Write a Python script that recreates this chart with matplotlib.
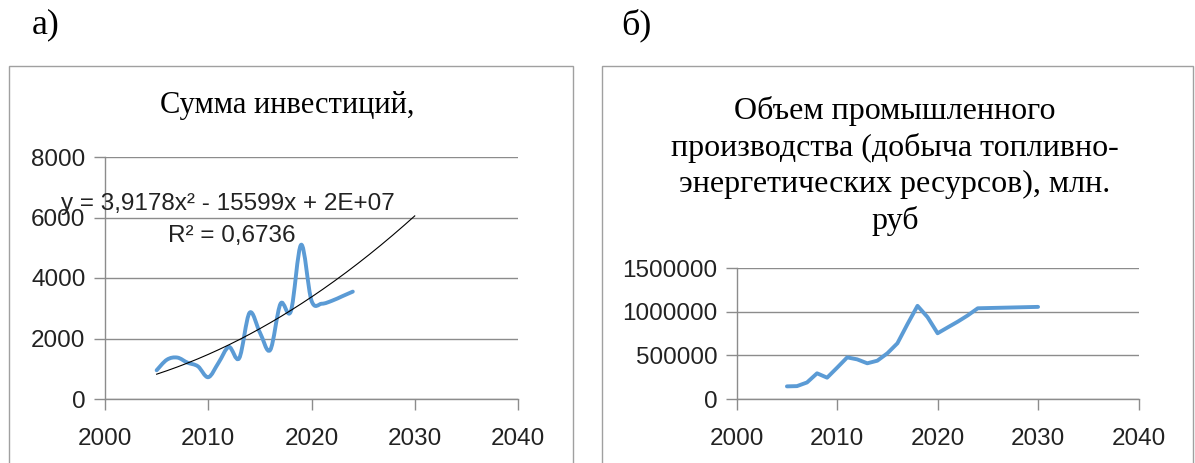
import numpy as np
import matplotlib
matplotlib.use("Agg")
import matplotlib.pyplot as plt
from matplotlib.path import Path
from matplotlib.patches import PathPatch, Rectangle

# ---- data ----
inv_years = [2005, 2006, 2007, 2008, 2009, 2010, 2011, 2012, 2013, 2014,
             2015, 2016, 2017, 2018, 2019, 2020, 2021, 2022, 2023, 2024]
inv_values = [950, 1300, 1370, 1200, 1080, 720, 1200, 1720, 1350, 2850,
              2200, 1620, 3150, 2900, 5100, 3250, 3150, 3250, 3400, 3550]
# trend line as labelled: y = 3,9178x^2 - 15599x + c  (c fixed by the value read at 2005)
trend_a = 3.9178
trend_b = -15599.0
trend_range = [2005, 2030]
trend_start_value = 820

prod_years = [2005, 2006, 2007, 2008, 2009, 2010, 2011, 2012, 2013, 2014,
              2015, 2016, 2017, 2018, 2019, 2020, 2021, 2022, 2023, 2024,
              2030]
prod_values = [145000, 148000, 190000, 295000, 245000, 360000, 478000, 455000,
               410000, 440000, 525000, 640000, 860000, 1070000, 940000, 755000,
               822000, 888000, 960000, 1042000, 1058000]

x_ticks = [2000, 2010, 2020, 2030, 2040]
inv_yticks = [0, 2000, 4000, 6000, 8000]
prod_yticks = [0, 500000, 1000000, 1500000]

title_a = "Сумма инвестиций,"
title_b = "Объем промышленного\nпроизводства (добыча топливно-\nэнергетических ресурсов), млн.\nруб"
eq_text = "y = 3,9178x² - 15599x + 2E+07"
r2_text = "R² = 0,6736"

W, H = 1195, 463
fig = plt.figure(figsize=(W / 100, H / 100), dpi=100)
fig.patch.set_facecolor("white")

BLUE = "#5B9BD5"
GRID = "#8c8c8c"
tick_font = "Liberation Sans"
serif = "Liberation Serif"
TICK_FS = 17.5


def smooth_path(xs, ys):
    xs = np.asarray(xs, float)
    ys = np.asarray(ys, float)
    pts = np.column_stack([xs, ys])
    n = len(pts)
    verts = [pts[0]]
    codes = [Path.MOVETO]
    for i in range(n - 1):
        p0 = pts[i - 1] if i > 0 else pts[i]
        p1 = pts[i]
        p2 = pts[i + 1]
        p3 = pts[i + 2] if i + 2 < n else pts[i + 1]
        c1 = p1 + (p2 - p0) / 6.0
        c2 = p2 - (p3 - p1) / 6.0
        verts += [c1, c2, p2]
        codes += [Path.CURVE4] * 3
    return Path(verts, codes)


def style_axes(ax, yticks, ylim):
    ax.set_xlim(2000, 2040)
    ax.set_ylim(*ylim)
    ax.set_xticks(x_ticks)
    ax.set_yticks(yticks)
    ax.set_yticklabels([str(v) for v in yticks])
    ax.set_xticklabels([str(v) for v in x_ticks])
    for s in ["top", "right"]:
        ax.spines[s].set_visible(False)
    for s in ["left", "bottom"]:
        ax.spines[s].set_color(GRID)
        ax.spines[s].set_linewidth(1.0)
    ax.grid(axis="y", color=GRID, linewidth=1.0)
    ax.grid(axis="x", visible=False)
    ax.set_axisbelow(True)
    ax.tick_params(axis="both", direction="out", length=8, color=GRID, width=1.0,
                   labelsize=TICK_FS, pad=6)
    ax.tick_params(axis="x", pad=13)
    for lab in ax.get_xticklabels() + ax.get_yticklabels():
        lab.set_fontfamily(tick_font)
        lab.set_color("#222222")
    ax.set_facecolor("none")


# frames
fig.patches.append(Rectangle((9 / W, -0.05), (573 - 9) / W, 1.05 - 66 / H,
                             transform=fig.transFigure, fill=False,
                             edgecolor="#a0a0a0", linewidth=1.0))
fig.patches.append(Rectangle((602 / W, -0.05), (1193 - 602) / W, 1.05 - 66 / H,
                             transform=fig.transFigure, fill=False,
                             edgecolor="#a0a0a0", linewidth=1.0))

# panel letters
fig.text(46 / W, 1 - 25 / H, "а)", family=serif, fontsize=26, ha="center", va="center")
fig.text(636 / W, 1 - 25 / H, "б)", family=serif, fontsize=26, ha="center", va="center")

# ---- left chart ----
axL = fig.add_axes([105 / W, (H - 399) / H, (518 - 105) / W, (399 - 157) / H])
style_axes(axL, inv_yticks, (0, 8000))
axL.add_patch(PathPatch(smooth_path(inv_years, inv_values), facecolor="none",
                        edgecolor=BLUE, linewidth=2.8, capstyle="round",
                        joinstyle="round", zorder=3))
tx = np.linspace(trend_range[0], trend_range[1], 200)
x0 = trend_range[0]
trend_c = trend_start_value - (trend_a * x0 ** 2 + trend_b * x0)
axL.plot(tx, trend_a * tx ** 2 + trend_b * tx + trend_c, color="black",
         linewidth=0.8, zorder=4)
fig.text(228 / W, 1 - 204 / H, eq_text, family=tick_font, fontsize=17.5,
         ha="center", va="center", color="#222222")
fig.text(232 / W, 1 - 236 / H, r2_text, family=tick_font, fontsize=17.5,
         ha="center", va="center", color="#222222")
fig.text(287 / W, 1 - 105 / H, title_a, family=serif, fontsize=22,
         ha="center", va="center")

# ---- right chart ----
axR = fig.add_axes([736.7 / W, (H - 399) / H, (1138.5 - 736.7) / W, (399 - 268.4) / H])
style_axes(axR, prod_yticks, (0, 1500000))
axR.plot(prod_years, prod_values, color=BLUE, linewidth=2.8,
         solid_joinstyle="round", solid_capstyle="round", zorder=3)
fig.text(895 / W, 1 - 166 / H, title_b, family=serif, fontsize=23,
         ha="center", va="center", linespacing=1.32)

fig.savefig("out.png", dpi=100, facecolor="white")
